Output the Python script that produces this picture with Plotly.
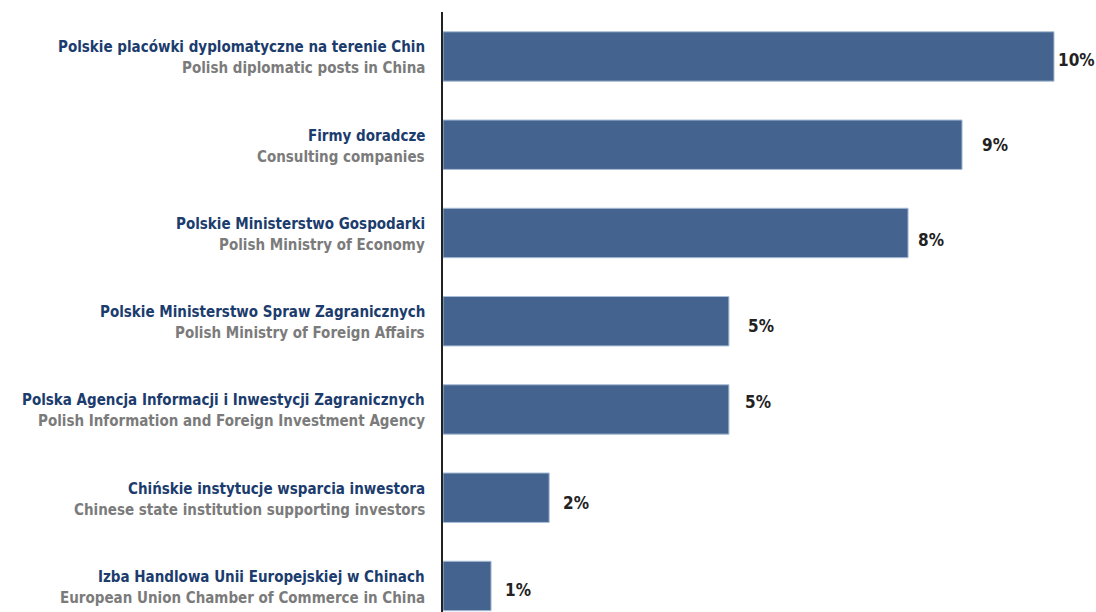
import plotly.graph_objects as go

# ---- data ----
labels_pl = [
    "Polskie placówki dyplomatyczne na terenie Chin",
    "Firmy doradcze",
    "Polskie Ministerstwo Gospodarki",
    "Polskie Ministerstwo Spraw Zagranicznych",
    "Polska Agencja Informacji i Inwestycji Zagranicznych",
    "Chińskie instytucje wsparcia inwestora",
    "Izba Handlowa Unii Europejskiej w Chinach",
]
labels_en = [
    "Polish diplomatic posts in China",
    "Consulting companies",
    "Polish Ministry of Economy",
    "Polish Ministry of Foreign Affairs",
    "Polish Information and Foreign Investment Agency",
    "Chinese state institution supporting investors",
    "European Union Chamber of Commerce in China",
]
values = [10.3, 8.75, 7.84, 4.82, 4.82, 1.79, 0.81]
value_labels = ["10%", "9%", "8%", "5%", "5%", "2%", "1%"]

# ---- style ----
FONT = "Liberation Sans Narrow, DejaVu Sans Condensed, Arial Narrow, sans-serif"
BAR_COLOR = "#44648f"
PL_COLOR = "#1b3c6d"
EN_COLOR = "#7b7b7b"
VAL_COLOR = "#222222"
# small label nudges (px) as in the reference
val_dx = [3, 19, 9, 18, 15, 13, 13]
val_dy = [-4, 0, -7, -5, 7, -5, -4]

ypos = list(range(len(values)))

fig = go.Figure()
fig.add_trace(go.Bar(
    x=values, y=ypos, orientation="h", width=0.56,
    marker=dict(color=BAR_COLOR, line=dict(color="#a9bdd6", width=1)),
    hoverinfo="skip",
))

ann = []
for i in ypos:
    ann.append(dict(x=0, y=i, xref="x", yref="y", text=labels_pl[i],
                    xanchor="right", yanchor="middle", xshift=-16, yshift=9,
                    showarrow=False,
                    font=dict(family=FONT, size=15, color=PL_COLOR, weight="bold")))
    ann.append(dict(x=0, y=i, xref="x", yref="y", text=labels_en[i],
                    xanchor="right", yanchor="middle", xshift=-16, yshift=-12,
                    showarrow=False,
                    font=dict(family=FONT, size=15, color=EN_COLOR, weight="bold")))
    ann.append(dict(x=values[i], y=i, xref="x", yref="y", text=value_labels[i],
                    xanchor="left", yanchor="middle", xshift=val_dx[i], yshift=val_dy[i],
                    showarrow=False, borderpad=0,
                    font=dict(family=FONT, size=17, color=VAL_COLOR, weight="bold")))

fig.update_layout(
    width=1096, height=612,
    margin=dict(l=443, r=0, t=12, b=0),
    paper_bgcolor="white", plot_bgcolor="white",
    showlegend=False,
    annotations=ann,
    xaxis=dict(range=[0, 11.008], showgrid=False, zeroline=False,
               showticklabels=False, ticks="", showline=False),
    yaxis=dict(range=[6.295, -0.504], showgrid=False, zeroline=False,
               showticklabels=False, ticks="", showline=True,
               linecolor="#222222", linewidth=2),
)

fig.write_html("out.html")
